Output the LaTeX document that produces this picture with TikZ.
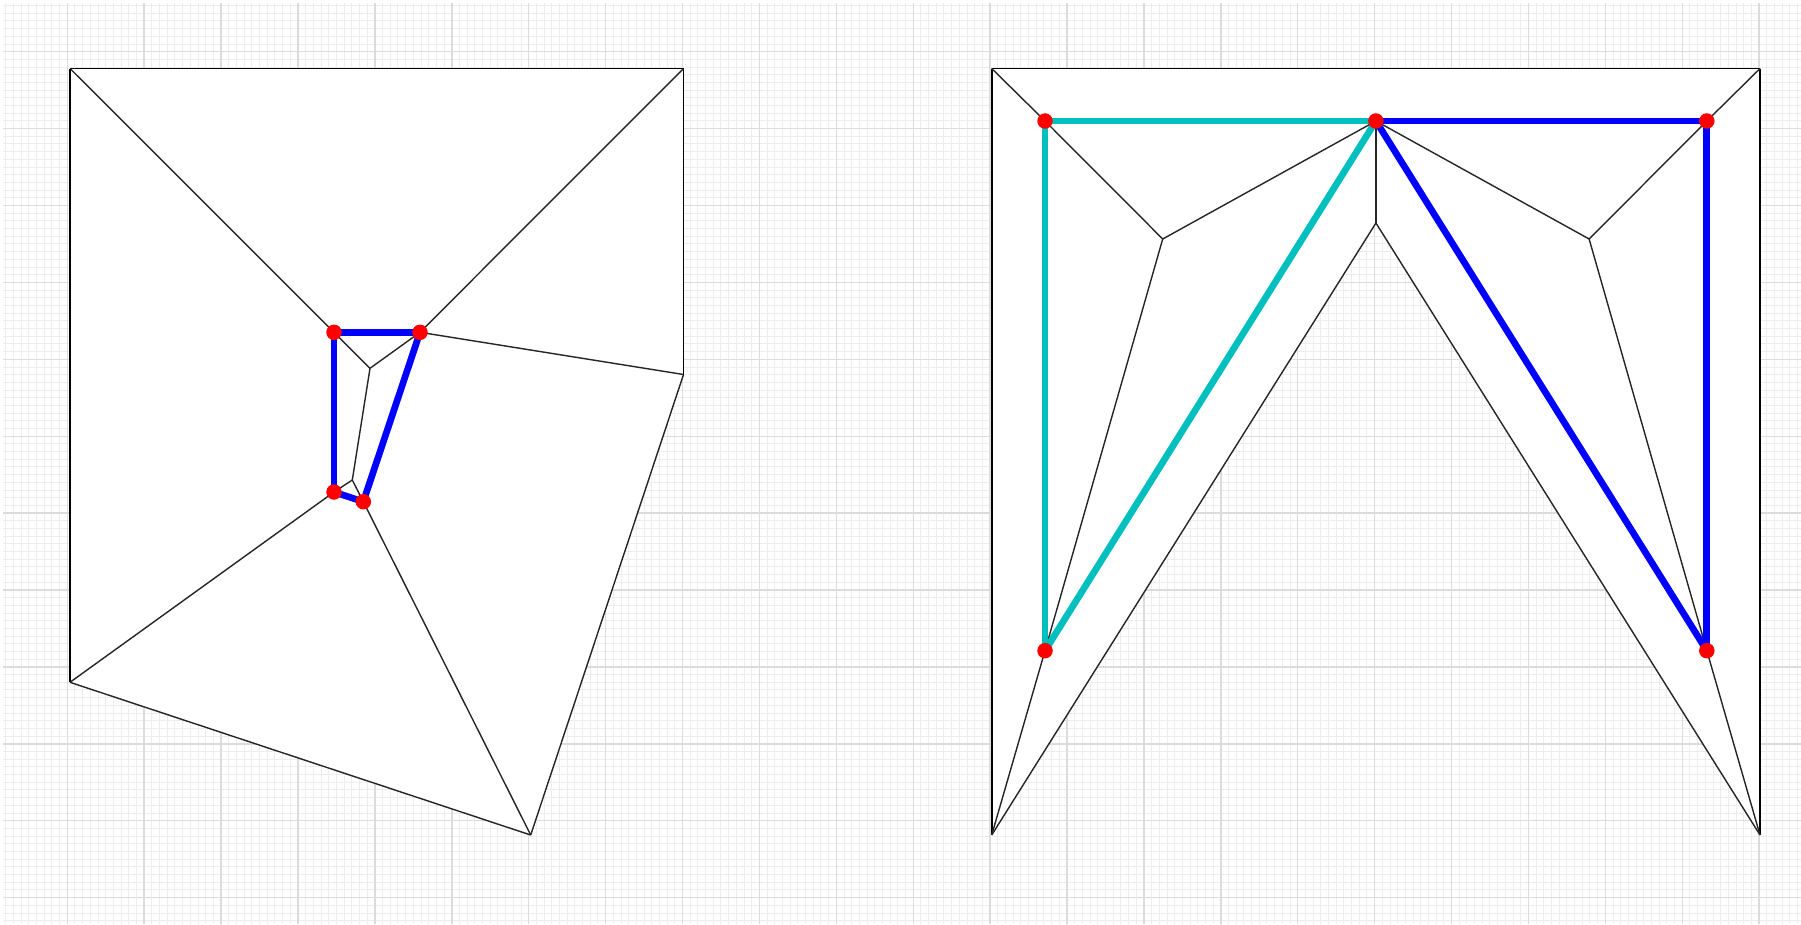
\documentclass[tikz,border=0pt]{standalone}
\usetikzlibrary{positioning}
\definecolor{gridminor}{RGB}{237,237,237}
\definecolor{gridmajor}{RGB}{220,220,220}
\definecolor{tealpath}{RGB}{0,191,191}

\begin{document}
\begin{tikzpicture}[
  x=0.01cm, y=-0.01cm,
  minor/.style={draw=gridminor, line width=0.28pt},
  major/.style={draw=gridmajor, line width=0.4pt},
  face/.style={fill=white, draw=none},
  border/.style={draw=black, line width=0.55pt},
  edge/.style={draw=black!85, line width=0.4pt},
  bpath/.style={draw=blue, line width=1.9pt},
  cpath/.style={draw=tealpath, line width=1.9pt},
  dot/.style={circle, fill=red, minimum size=0.155cm, inner sep=0pt}
]
  \useasboundingbox (0,0) rectangle (1801,924);

  % Background grid, ten minor steps to one major step.
  \begin{scope}
    \clip (3,3) rectangle (1801,924);
    \foreach \i in {-8,...,226}
      \draw[minor] ({67.3+7.69*\i},0) -- ({67.3+7.69*\i},924);
    \foreach \j in {-6,...,114}
      \draw[minor] (0,{51.7+7.69*\j}) -- (1801,{51.7+7.69*\j});
    \foreach \i in {0,...,23}
      \draw[major] ({67.3+76.9*\i},0) -- ({67.3+76.9*\i},924);
    \foreach \j in {0,...,11}
      \draw[major] (0,{51.7+76.9*\j}) -- (1801,{51.7+76.9*\j});
  \end{scope}

  % Left graph: outer corners.
  \coordinate (a) at (70,68.5);
  \coordinate (b) at (683.5,68.5);
  \coordinate (c) at (683.5,374.5);
  \coordinate (d) at (530.7,835);
  \coordinate (e) at (70,682.3);

  % Left graph: inner vertices.
  \coordinate (p1) at (334,332.3);
  \coordinate (p2) at (420,332.3);
  \coordinate (p3) at (334,492);
  \coordinate (p4) at (363.3,501.7);
  \coordinate (q1) at (370,368.3);
  \coordinate (q2) at (352.3,480);

  % Right graph: outer corners and apex.
  \coordinate (tl) at (991.7,68.5);
  \coordinate (tr) at (1760,68.5);
  \coordinate (bl) at (991.7,835);
  \coordinate (br) at (1760,835);
  \coordinate (m) at (1375.9,223);

  % Right graph: inner vertices.
  \coordinate (r1) at (1045,121);
  \coordinate (r2) at (1375.9,121);
  \coordinate (r3) at (1706.8,121);
  \coordinate (r4) at (1045,650.7);
  \coordinate (r5) at (1706.8,650.7);
  \coordinate (s1) at (1162.7,239);
  \coordinate (s2) at (1589.1,239);

  % White faces.
  \fill[face] (a)--(b)--(c)--(d)--(e)--cycle;
  \fill[face] (tl)--(tr)--(br)--(m)--(bl)--cycle;

  % Left graph edges.
  \draw[border] (e)--(a); \draw[border] (a)--(b);
  \draw[border] (b)--(c);
  \draw[edge] (c)--(d); \draw[edge] (d)--(e);
  \draw[edge] (a)--(p1); \draw[edge] (b)--(p2);
  \draw[edge] (p2)--(c);
  \draw[edge] (p1)--(q1); \draw[edge] (p2)--(q1);
  \draw[edge] (q1)--(q2);
  \draw[edge] (q2)--(p3); \draw[edge] (q2)--(p4);
  \draw[edge] (p3)--(e); \draw[edge] (p4)--(d);

  % Right graph edges.
  \draw[border] (bl)--(tl); \draw[border] (tl)--(tr);
  \draw[border] (tr)--(br);
  \draw[edge] (bl)--(m); \draw[edge] (m)--(br);
  \draw[edge] (tl)--(r1); \draw[edge] (r1)--(s1);
  \draw[edge] (s1)--(r2); \draw[edge] (r2)--(m);
  \draw[edge] (r2)--(s2); \draw[edge] (s2)--(r3);
  \draw[edge] (r3)--(tr);
  \draw[edge] (s1)--(r4); \draw[edge] (r4)--(bl);
  \draw[edge] (s2)--(r5); \draw[edge] (r5)--(br);

  % Highlighted cycles.
  \draw[bpath] (p1)--(p2); \draw[bpath] (p1)--(p3);
  \draw[bpath] (p3)--(p4); \draw[bpath] (p4)--(p2);

  \draw[cpath] (r1)--(r2); \draw[cpath] (r1)--(r4);
  \draw[cpath] (r4)--(r2);
  \draw[bpath] (r2)--(r3); \draw[bpath] (r3)--(r5);
  \draw[bpath] (r5)--(r2);

  % Marked vertices.
  \foreach \v in {p1,p2,p3,p4,r1,r2,r3,r4,r5}
    \node[dot] (\v-dot) at (\v) {};
\end{tikzpicture}
\end{document}
